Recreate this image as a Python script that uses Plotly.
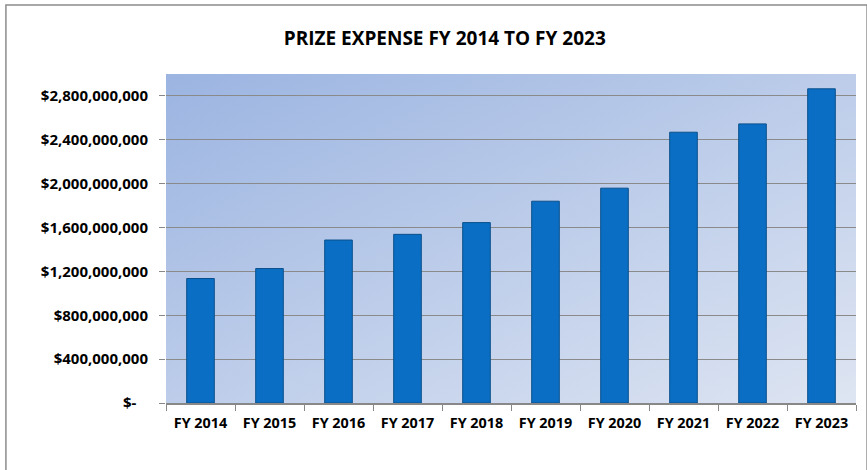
import base64
import plotly.graph_objects as go

years = ["FY 2014", "FY 2015", "FY 2016", "FY 2017", "FY 2018",
         "FY 2019", "FY 2020", "FY 2021", "FY 2022", "FY 2023"]
prize_expense = [1135e6, 1226e6, 1486e6, 1538e6, 1645e6,
                 1840e6, 1959e6, 2469e6, 2545e6, 2865e6]
tick_vals = [0, 400e6, 800e6, 1200e6, 1600e6, 2000e6, 2400e6, 2800e6]
tick_text = ["$-\u00a0\u00a0\u00a0", "$400,000,000", "$800,000,000", "$1,200,000,000",
             "$1,600,000,000", "$2,000,000,000", "$2,400,000,000",
             "$2,800,000,000"]

# gradient background for the plot area
svg = (
    '<svg xmlns="http://www.w3.org/2000/svg" width="100" height="100" preserveAspectRatio="none">'
    '<defs><linearGradient id="g" x1="0" y1="0" x2="1" y2="1">'
    '<stop offset="0" stop-color="#9bb4e1"/>'
    '<stop offset="1" stop-color="#dee5f2"/>'
    '</linearGradient></defs>'
    '<rect width="100" height="100" fill="url(#g)"/></svg>'
)
bg_src = "data:image/svg+xml;base64," + base64.b64encode(svg.encode()).decode()

fig = go.Figure()
fig.add_trace(go.Bar(
    x=years,
    y=prize_expense,
    width=0.4,
    marker=dict(color="#0a6fc4", line=dict(color="#0a4f8c", width=1)),
))

fig.update_layout(
    width=867,
    height=470,
    margin=dict(l=166, r=11, t=74, b=67),
    paper_bgcolor="white",
    plot_bgcolor="rgba(0,0,0,0)",
    showlegend=False,
    font=dict(family="Open Sans", size=14, color="black"),
    title=dict(
        text="<b>PRIZE EXPENSE FY 2014 TO FY 2023</b>",
        x=0.513,
        xanchor="center",
        y=0.918,
        yanchor="middle",
        font=dict(family="Open Sans", size=19, color="black"),
    ),
    images=[dict(
        source=bg_src,
        xref="paper", yref="paper",
        x=0, y=1, sizex=1, sizey=1,
        xanchor="left", yanchor="top",
        sizing="stretch",
        layer="below",
    )],
    shapes=[dict(
        type="rect", xref="paper", yref="paper",
        x0=-0.232, x1=1.016, y0=-0.22, y1=1.21,
        line=dict(color="#8c8c8c", width=1.5),
    )],
)

fig.update_xaxes(
    showline=True,
    linecolor="#888888",
    linewidth=1.5,
    ticks="outside",
    tickson="boundaries",
    ticklen=6,
    tickcolor="#888888",
    showgrid=False,
    ticklabelstandoff=6,
    tickfont=dict(family="Open Sans", size=14.4, weight="bold"),
)
fig.update_yaxes(
    range=[0, 3.0e9],
    tickvals=tick_vals,
    ticktext=tick_text,
    showline=False,
    showgrid=True,
    gridcolor="#8a8a8a",
    gridwidth=1,
    zeroline=False,
    ticks="outside",
    ticklen=6,
    tickcolor="#888888",
    ticklabelstandoff=8,
    tickfont=dict(family="Open Sans", size=15, weight="bold"),
)

fig.write_html("out.html", config={"displayModeBar": False},
               post_script="document.body.style.margin='0';")
